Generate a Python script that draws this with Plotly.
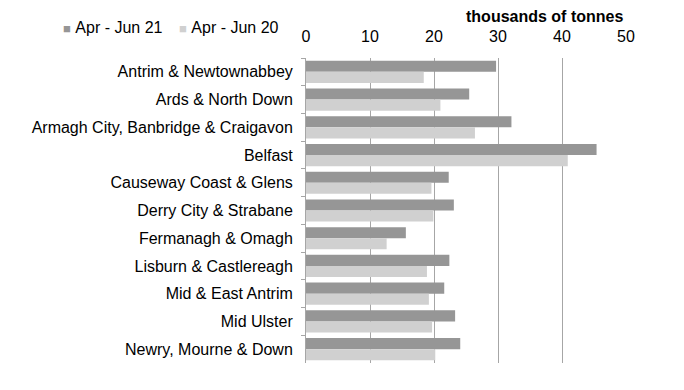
import plotly.graph_objects as go

categories = ["Antrim & Newtownabbey", "Ards & North Down", "Armagh City, Banbridge & Craigavon",
              "Belfast", "Causeway Coast & Glens", "Derry City & Strabane", "Fermanagh & Omagh",
              "Lisburn & Castlereagh", "Mid & East Antrim", "Mid Ulster", "Newry, Mourne & Down"]
apr_jun_21 = [29.7, 25.5, 32.1, 45.4, 22.3, 23.1, 15.6, 22.4, 21.6, 23.3, 24.1]
apr_jun_20 = [18.4, 21.0, 26.4, 40.9, 19.6, 19.9, 12.6, 18.9, 19.2, 19.7, 20.2]
x_ticks = [0, 10, 20, 30, 40, 50]
series_names = ["Apr - Jun 21", "Apr - Jun 20"]
series_colors = ["#969696", "#d0d0d0"]

font = "Liberation Sans, Arial, sans-serif"

W, H = 684, 390
OFF = 8  # page body margin
ML, MR, MT, MB = 298, 66, 50, 35
PW = W - ML - MR
PH = H - MT - MB

def px(xpix):
    return (xpix - OFF - ML) / PW

def py(ypix):
    return (H - MB - (ypix - OFF)) / PH

fig = go.Figure()
for name, vals, col in zip(series_names, [apr_jun_21, apr_jun_20], series_colors):
    fig.add_trace(go.Bar(y=categories, x=vals, name=name, orientation="h",
                         marker=dict(color=col, line=dict(width=0)), showlegend=False))

legend_x = [61, 177]
annotations = []
for name, col, lx in zip(series_names, series_colors, legend_x):
    annotations.append(dict(
        text=f"<span style='color:{col};font-size:13px'>■</span>&nbsp;{name}",
        x=px(lx), y=py(28), xref="paper", yref="paper", yanchor="middle",
        xanchor="left", showarrow=False, font=dict(size=16, family=font)))

annotations.append(dict(text="<b>thousands of tonnes</b>", x=px(544), y=py(17),
                        xref="paper", yref="paper", yanchor="middle", xanchor="center",
                        showarrow=False, font=dict(size=16, family=font)))

fig.update_layout(
    width=W, height=H,
    margin=dict(l=ML, r=MR, t=MT, b=MB, autoexpand=False),
    paper_bgcolor="white", plot_bgcolor="white",
    barmode="group", bargap=0.2, bargroupgap=0,
    font=dict(family=font, size=16, color="#000000"),
    showlegend=False,
    xaxis=dict(side="top", range=[0, 50], tickvals=x_ticks, showgrid=True,
               gridcolor="#a6a6a6", gridwidth=1, zeroline=False, showline=False,
               ticks="", ticklabelstandoff=12, tickfont=dict(size=16)),
    yaxis=dict(autorange="reversed", showline=True, linecolor="#a6a6a6", linewidth=1,
               ticks="outside", tickson="boundaries", ticklen=4, tickcolor="#a6a6a6",
               showgrid=False, ticklabelstandoff=9, tickfont=dict(size=16)),
    annotations=annotations,
)

fig.write_html("out.html")
